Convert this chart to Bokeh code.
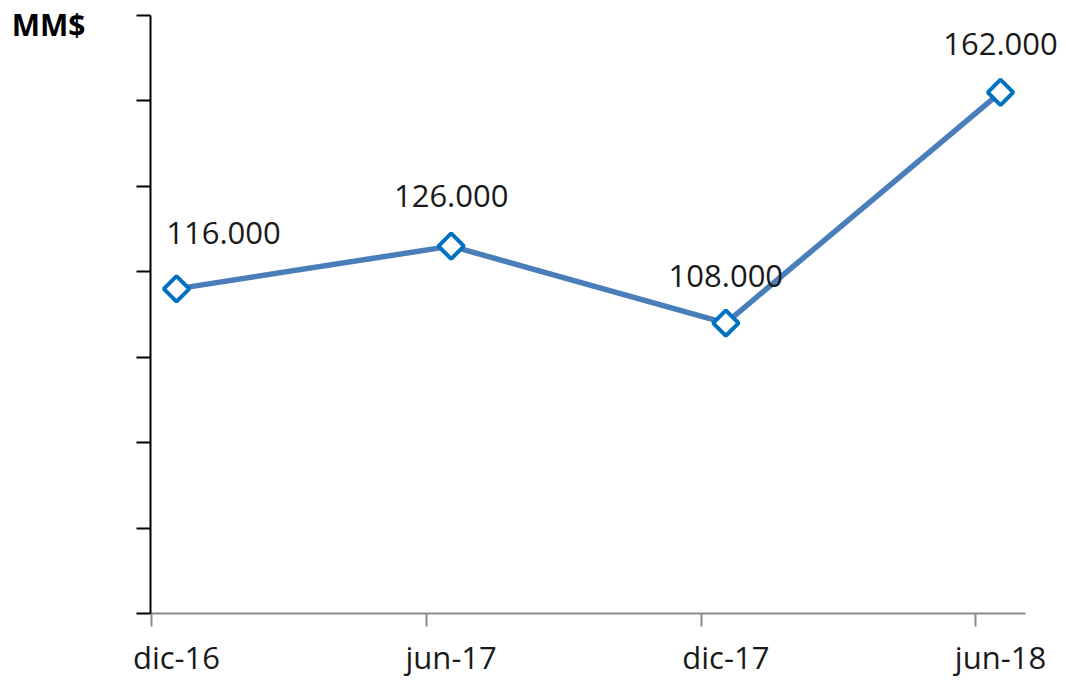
from bokeh.plotting import figure
from bokeh.models import LinearAxis, FixedTicker, Range1d, ColumnDataSource
from bokeh.core.properties import value
from bokeh.embed import file_html
from bokeh.resources import INLINE
import math

# ---- data ----
categories = ["dic-16", "jun-17", "dic-17", "jun-18"]
values = [116, 126, 108, 162]
value_labels = ["116.000", "126.000", "108.000", "162.000"]
y_ticks = [40, 60, 80, 100, 120, 140, 160, 180]
unit_label = "MM$"

# ---- styling ----
label_dx = [47, 0, 0, 0]
label_dy = [-56, -50, -47, -48]
tick_shift = -0.09
unit_label_at = 178
x_lo, x_hi = -0.0947, 3.091
px_per_x = 274.67
px_per_y = 598 / (y_ticks[-1] - y_ticks[0])

xs = list(range(len(categories)))
src = ColumnDataSource(dict(x=xs, y=values, lab=value_labels, dx=label_dx, dy=label_dy))

p = figure(width=1066, height=681,
           x_range=Range1d(x_lo, x_hi + 41 / px_per_x),
           y_range=Range1d(y_ticks[0], y_ticks[-1] + 15 / px_per_y),
           output_backend="svg", toolbar_location=None, x_axis_type=None, y_axis_type=None,
           min_border_left=150, min_border_right=0, min_border_top=0, min_border_bottom=68)
p.outline_line_color = None
p.background_fill_color = "white"
p.border_fill_color = "white"

# y axis: line + outward ticks, no labels (minor ticks only)
yax = LinearAxis(ticker=FixedTicker(ticks=[], minor_ticks=y_ticks), bounds=(y_ticks[0], y_ticks[-1]),
                 major_tick_out=14, major_tick_in=0, minor_tick_out=14, minor_tick_in=0,
                 major_label_standoff=0,
                 axis_line_color="black", axis_line_width=2,
                 minor_tick_line_color="black", minor_tick_line_width=2)
p.add_layout(yax, "left")

# unit label "MM$" as a tick label of an invisible second axis
yax2 = LinearAxis(ticker=FixedTicker(ticks=[unit_label_at]),
                  major_label_overrides={unit_label_at: unit_label},
                  major_tick_out=0, major_tick_in=0, minor_tick_out=0, minor_tick_in=0,
                  major_label_standoff=51, major_label_text_font="Open Sans",
                  major_label_text_font_size="30px", major_label_text_font_style="bold",
                  major_label_text_color="black",
                  axis_line_color=None, major_tick_line_color=None)
p.add_layout(yax2, "left")

# x axis: grey line + tick marks (no labels)
xax1 = LinearAxis(ticker=FixedTicker(ticks=[], minor_ticks=[i + tick_shift for i in xs]),
                  bounds=(x_lo, x_hi),
                  major_tick_out=13, major_tick_in=0, minor_tick_out=13, minor_tick_in=0,
                  major_label_standoff=0,
                  axis_line_color="#8c8c8c", axis_line_width=2,
                  minor_tick_line_color="#8c8c8c", minor_tick_line_width=2)
p.add_layout(xax1, "below")

# x category labels
xax2 = LinearAxis(ticker=FixedTicker(ticks=xs), major_tick_out=0, major_tick_in=0,
                  minor_tick_out=0, minor_tick_in=0,
                  major_label_overrides={i: c for i, c in zip(xs, categories)},
                  major_label_text_font="Open Sans", major_label_text_font_size="31px",
                  major_label_text_color="#1a1a1a", major_label_standoff=9,
                  axis_line_color=None, major_tick_line_color=None)
p.add_layout(xax2, "below")

p.line("x", "y", source=src, line_color="#4a7ebb", line_width=5.5)
p.scatter("x", "y", source=src, marker="square", size=18, angle=math.pi / 4,
          line_color="#0070c0", line_width=4, fill_color="white")
p.text("x", "y", text="lab", source=src, x_offset="dx", y_offset="dy",
       text_align="center", text_baseline="middle",
       text_font=value("Open Sans"), text_font_size="31px", text_color="#1a1a1a")

open("out.html", "w").write(file_html(p, INLINE))
